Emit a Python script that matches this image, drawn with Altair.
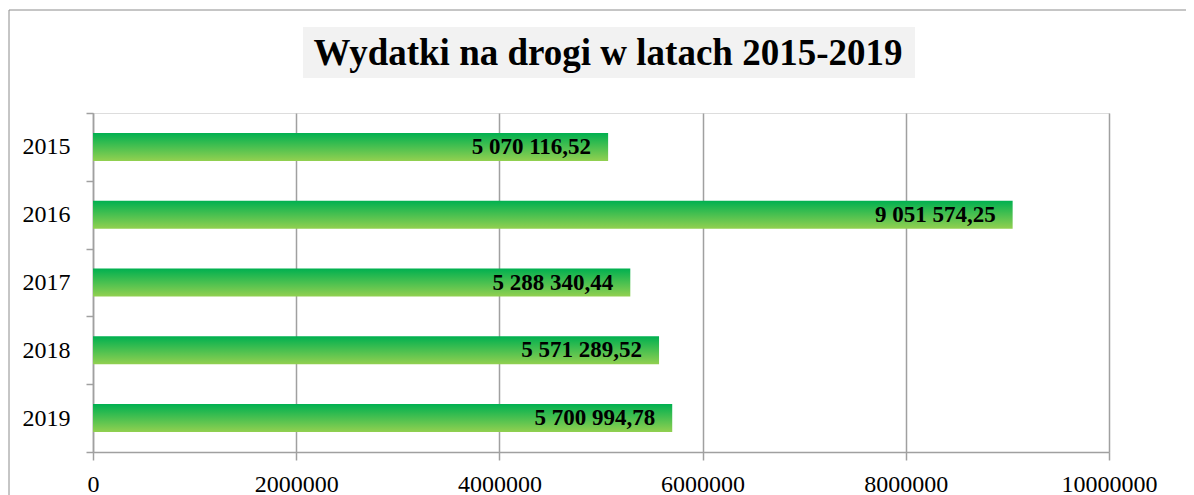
import altair as alt
import pandas as pd

years = ["2015", "2016", "2017", "2018", "2019"]
values = [5070116.52, 9051574.25, 5288340.44, 5571289.52, 5700994.78]
x_ticks = [0, 2000000, 4000000, 6000000, 8000000, 10000000]
title_text = "Wydatki na drogi w latach 2015-2019"


def fmt(v):
    return f"{v:,.2f}".replace(",", " ").replace(".", ",")


df = pd.DataFrame({"year": years, "value": values, "label": [fmt(v) for v in values]})

W, H = 1016, 339
GRID = "#a0a0a0"
SERIF = "Liberation Serif"

x_enc = alt.X(
    "value:Q",
    scale=alt.Scale(domain=[0, 10000000], nice=False),
    axis=alt.Axis(
        values=x_ticks, format="d", title=None, grid=True, gridColor=GRID, gridWidth=1.5,
        domainColor=GRID, domainWidth=1.5, tickColor=GRID, tickWidth=1.5, tickSize=8,
        labelFont=SERIF, labelFontSize=24, labelColor="#000000", labelPadding=12,
        labelFlush=False,
    ),
)
y_enc = alt.Y(
    "year:N",
    sort=years,
    scale=alt.Scale(paddingInner=0, paddingOuter=0),
    axis=alt.Axis(
        title=None, tickBand="extent", domainColor=GRID, domainWidth=1.5, tickColor=GRID,
        tickWidth=1.5, tickSize=7, labelFont=SERIF, labelFontSize=24, labelColor="#000000",
        labelPadding=16, grid=False,
    ),
)

gradient = alt.Gradient(
    gradient="linear",
    stops=[alt.GradientStop(color="#00B050", offset=0), alt.GradientStop(color="#92D050", offset=1)],
    x1=0, x2=0, y1=0, y2=1,
)

deco = alt.Data(values=[{"k": 1}])

border = alt.Chart(deco).mark_rect(fill="transparent", stroke="#8c8c8c", strokeWidth=1).encode(
    x=alt.value(-84), x2=alt.value(1110), y=alt.value(-103), y2=alt.value(420)
)
title_bg = alt.Chart(deco).mark_rect(fill="#f2f2f2").encode(
    x=alt.value(210), x2=alt.value(822), y=alt.value(-86), y2=alt.value(-35)
)
title_mark = alt.Chart(deco).mark_text(
    text=title_text, font=SERIF, fontSize=37, fontWeight="bold", color="#000000",
    align="center", baseline="alphabetic",
).encode(x=alt.value(515), y=alt.value(-48))

bars = alt.Chart(df).mark_bar(size=28, color=gradient).encode(x=x_enc, y=y_enc)
labels = alt.Chart(df).mark_text(
    align="right", baseline="middle", dx=-17, font=SERIF, fontSize=23, fontWeight="bold",
    color="#000000",
).encode(x="value:Q", y=alt.Y("year:N", sort=years), text="label:N")

chart = alt.layer(border, title_bg, title_mark, bars, labels).properties(
    width=W, height=H,
    autosize=alt.AutoSizeParams(type="none"),
    padding={"left": 85, "top": 105, "right": 77, "bottom": 43},
).configure_view(stroke=None).configure(background="white")

chart.save("out.html", embed_options={"renderer": "svg", "actions": False})
